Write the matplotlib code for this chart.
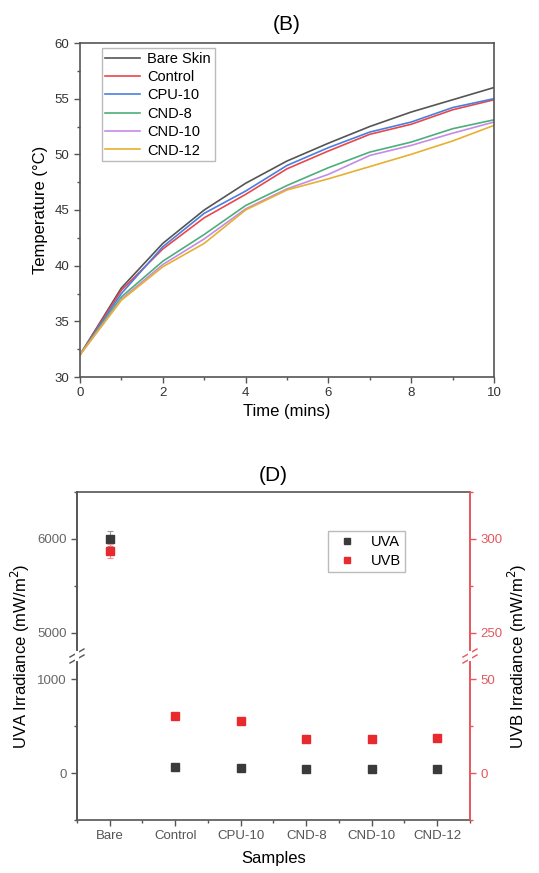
import numpy as np
import matplotlib
matplotlib.use('Agg')
import matplotlib.pyplot as plt
from matplotlib.ticker import MultipleLocator
from matplotlib.lines import Line2D

plt.rcParams['font.family'] = ['Liberation Sans', 'DejaVu Sans']

# ── Panel B data: skin temperature vs time ──
time_min = [0, 1, 2, 3, 4, 5, 6, 7, 8, 9, 10]
bare_skin = [32.0, 38.0, 42.0, 45.0, 47.4, 49.4, 51.0, 52.5, 53.8, 54.9, 56.0]
control = [32.0, 37.8, 41.5, 44.3, 46.4, 48.7, 50.3, 51.8, 52.7, 54.0, 54.9]
cpu_10 = [32.0, 37.5, 41.7, 44.7, 46.7, 49.0, 50.6, 52.0, 52.9, 54.2, 55.0]
cnd_8 = [32.0, 37.2, 40.4, 42.8, 45.4, 47.2, 48.8, 50.2, 51.1, 52.3, 53.1]
cnd_10 = [32.0, 37.0, 40.1, 42.4, 45.1, 46.9, 48.2, 49.9, 50.8, 51.9, 52.9]
cnd_12 = [32.0, 36.9, 39.9, 42.0, 45.0, 46.8, 47.8, 48.9, 50.0, 51.2, 52.6]

series_names = ['Bare Skin', 'Control', 'CPU-10', 'CND-8', 'CND-10', 'CND-12']
series_colors = ['#555555', '#e8474c', '#4a7fe0', '#4caf7a', '#c58be6', '#e6b030']

# ── Panel D data: UV irradiance ──
samples = ['Bare', 'Control', 'CPU-10', 'CND-8', 'CND-10', 'CND-12']
uva = [6000, 70, 50, 40, 40, 40]
uva_err = [80, 0, 0, 0, 0, 0]
uvb = [293.5, 30.5, 28.0, 18.3, 18.3, 18.6]
uvb_err = [3.5, 0, 0, 0, 0, 0]

W, H = 539, 873
fig = plt.figure(figsize=(W / 100, H / 100), dpi=100)

def fx(px):
    return px / W

def fy(py):
    return 1 - py / H

spine_c = '#555555'

# ── Panel B ──
ax = fig.add_axes([fx(80), fy(377), fx(494) - fx(80), fy(43) - fy(377)])
for vals, name, c in zip([bare_skin, control, cpu_10, cnd_8, cnd_10, cnd_12],
                         series_names, series_colors):
    ax.plot(time_min, vals, color=c, lw=1.2, label=name)
ax.set_xlim(0, 10)
ax.set_ylim(30, 60)
ax.xaxis.set_major_locator(MultipleLocator(2))
ax.xaxis.set_minor_locator(MultipleLocator(1))
ax.yaxis.set_major_locator(MultipleLocator(5))
ax.yaxis.set_minor_locator(MultipleLocator(2.5))
ax.tick_params(which='both', direction='out', top=False, right=False,
               labelsize=9.5, colors=spine_c, labelcolor='#333333', width=1)
ax.tick_params(which='major', length=4)
ax.tick_params(which='minor', length=2.5)
for s in ax.spines.values():
    s.set_color(spine_c)
    s.set_linewidth(1.2)
ax.set_xlabel('Time (mins)', fontsize=12, labelpad=3)
ax.set_ylabel('Temperature (°C)', fontsize=12, labelpad=5)
ax.set_title('(B)', fontsize=15, pad=9)
leg = ax.legend(loc='upper left', bbox_to_anchor=(0.052, 0.985), fontsize=10.5,
                frameon=True, fancybox=False, edgecolor='#aaaaaa', handlelength=2.4,
                borderpad=0.25, labelspacing=0.3, handletextpad=0.5, borderaxespad=0)
leg.get_frame().set_linewidth(1.0)

# ── Panel D (broken y axis) ──
x = np.arange(1, len(samples) + 1)
left, right = fx(77), fx(470)
y_top, y_brk, y_bot = fy(492), fy(656), fy(820)
ax_hi = fig.add_axes([left, y_brk, right - left, y_top - y_brk])
ax_lo = fig.add_axes([left, y_bot, right - left, y_brk - y_bot], sharex=ax_hi)
r_hi = ax_hi.twinx()
r_lo = ax_lo.twinx()

uva_c, uvb_c = '#3a3a3a', '#e8292e'
red_axis = '#e8565b'
for a_l, a_r in [(ax_hi, r_hi), (ax_lo, r_lo)]:
    a_l.errorbar(x, uva, yerr=uva_err, fmt='s', ms=5.5, color=uva_c,
                 ecolor='#999999', elinewidth=0.8, capsize=2, capthick=0.8, zorder=3)
    a_r.errorbar(x, uvb, yerr=uvb_err, fmt='s', ms=5.5, color=uvb_c,
                 ecolor='#f09090', elinewidth=0.8, capsize=2, capthick=0.8, zorder=3)

ax_hi.set_ylim(4750, 6500)
ax_lo.set_ylim(-500, 1250)
r_hi.set_ylim(237.5, 325)
r_lo.set_ylim(-25, 62.5)
ax_lo.set_xlim(0.5, 6.5)

for a in (ax_hi, ax_lo):
    a.yaxis.set_major_locator(MultipleLocator(1000))
    a.yaxis.set_minor_locator(MultipleLocator(500))
for a in (r_hi, r_lo):
    a.yaxis.set_major_locator(MultipleLocator(50))
    a.yaxis.set_minor_locator(MultipleLocator(25))

ax_lo.set_xticks(x)
ax_lo.set_xticklabels(samples)
ax_lo.xaxis.set_minor_locator(MultipleLocator(0.5))

for a in (ax_hi, ax_lo, r_hi, r_lo):
    a.spines['top'].set_visible(False)
    a.spines['bottom'].set_visible(False)
    a.spines['left'].set_color(spine_c)
    a.spines['right'].set_color(red_axis)
    for s in a.spines.values():
        s.set_linewidth(1.2)
    a.tick_params(which='both', direction='out', labelsize=9.5, width=1)
    a.tick_params(which='major', length=4)
    a.tick_params(which='minor', length=2.5)

ax_hi.spines['top'].set_visible(True)
ax_hi.spines['top'].set_color(spine_c)
ax_lo.spines['bottom'].set_visible(True)
ax_lo.spines['bottom'].set_color(spine_c)

ax_hi.tick_params(axis='x', which='both', bottom=False, labelbottom=False)
ax_lo.tick_params(axis='x', which='both', colors=spine_c, labelcolor='#555555')
for a in (ax_hi, ax_lo):
    a.tick_params(axis='y', which='both', colors=spine_c, labelcolor='#666666')
for a in (r_hi, r_lo):
    a.tick_params(axis='y', which='both', colors=red_axis, labelcolor='#e05a5e')
    a.tick_params(axis='x', which='both', bottom=False, labelbottom=False)

# break marks on both vertical axes
for px in (77, 470):
    c = spine_c if px == 77 else red_axis
    for off in (-3, 3):
        fig.add_artist(Line2D([fx(px - 7), fx(px + 7)],
                              [fy(656 + off + 4), fy(656 + off - 4)],
                              color=c, lw=1.0, transform=fig.transFigure))
    fig.add_artist(Line2D([fx(px), fx(px)], [fy(653), fy(659)],
                          color='white', lw=3, transform=fig.transFigure))

ax_lo.set_xlabel('Samples', fontsize=12, labelpad=6)
fig.text(fx(20), fy(656), 'UVA Irradiance (mW/m$^2$)', rotation=90, fontsize=12,
         ha='center', va='center')
fig.text(fx(517), fy(656), 'UVB Irradiance (mW/m$^2$)', rotation=90, fontsize=12,
         ha='center', va='center')
ax_hi.set_title('(D)', fontsize=15, pad=8)

handles = [Line2D([], [], ls='none', marker='s', ms=5, color=uva_c),
           Line2D([], [], ls='none', marker='s', ms=5, color=uvb_c)]
leg2 = ax_hi.legend(handles, ['UVA', 'UVB'], loc='upper left',
                    bbox_to_anchor=(0.639, 0.762), fontsize=10.5, frameon=True,
                    fancybox=False, edgecolor='#aaaaaa', handlelength=2.0,
                    borderpad=0.3, labelspacing=0.3, handletextpad=0.6, borderaxespad=0)
leg2.get_frame().set_linewidth(1.0)

fig.savefig('out.png', dpi=100)
